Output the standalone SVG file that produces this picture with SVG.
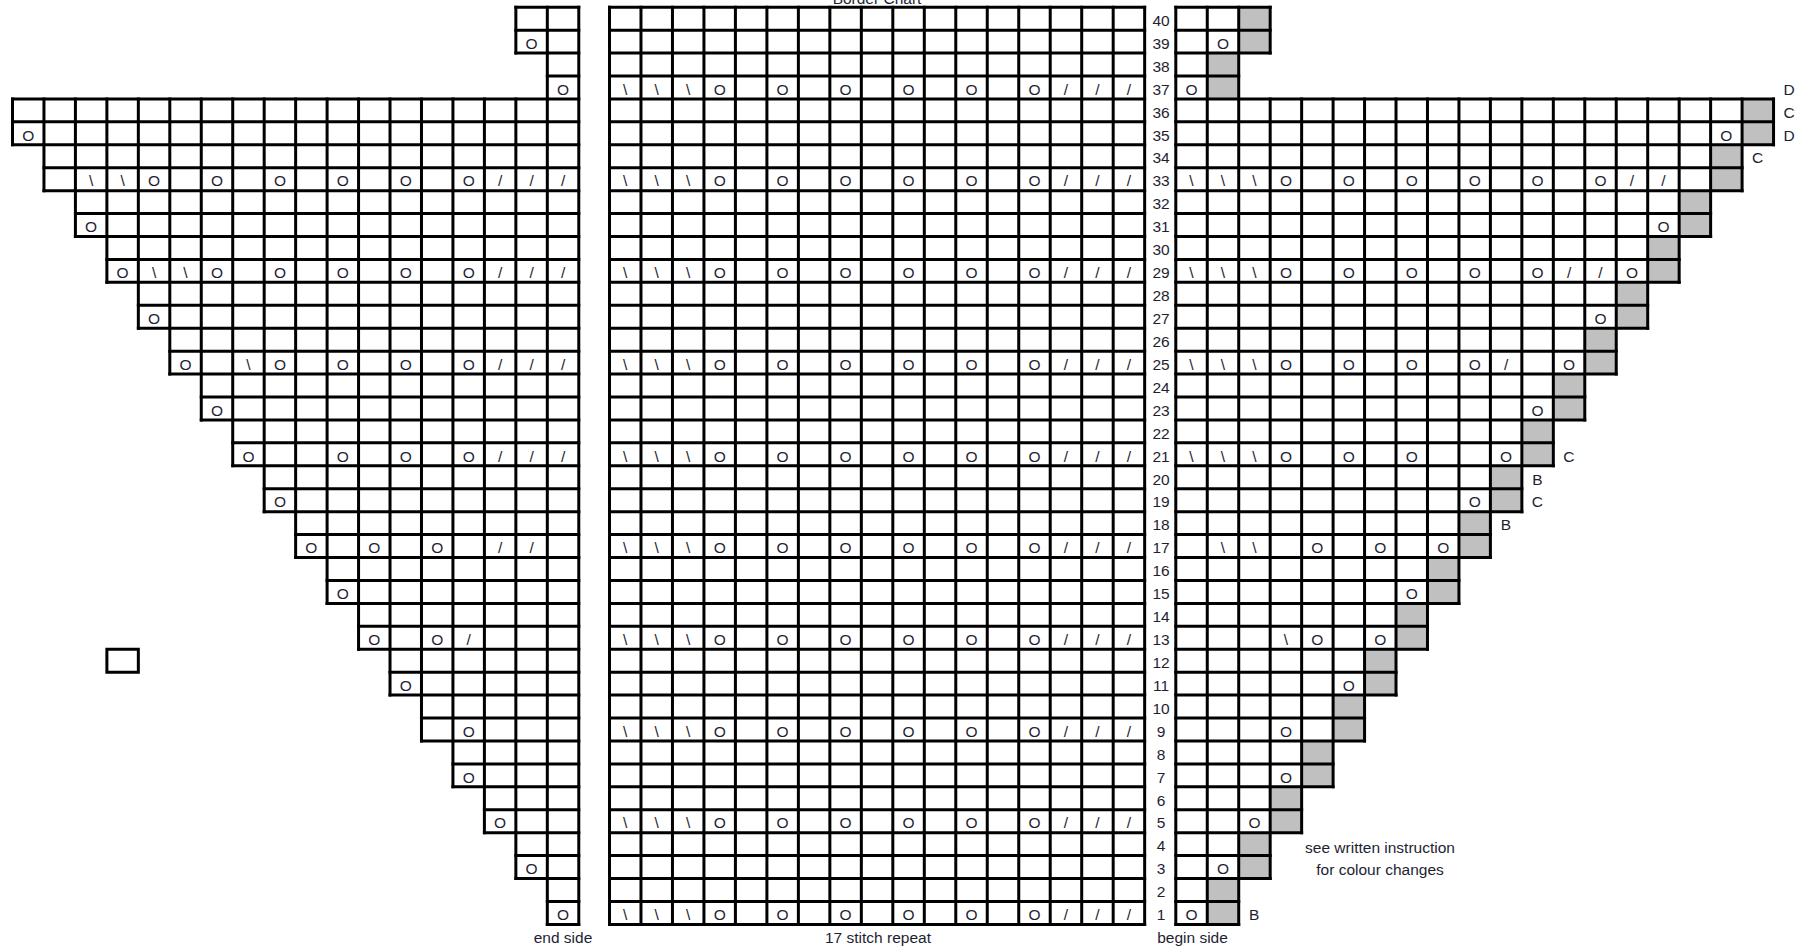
<svg xmlns="http://www.w3.org/2000/svg" width="1808" height="946" viewBox="0 0 1808 946">
<style>
.g{fill:none;stroke:#000;stroke-width:3;stroke-linecap:square;vector-effect:non-scaling-stroke}
.gr{fill:#c0c0c0;stroke:none}
text{font-family:"Liberation Sans",Arial,sans-serif;font-size:15.5px;fill:#1e1e32;text-anchor:middle}
</style>
<rect x="0" y="0" width="1808" height="946" fill="#fff"/>
<text id="title" x="877" y="4">Border Chart</text>
<g id="left-section">
<g transform="translate(12.5,7.2) scale(31.46,22.93)">
<path class="g" d="M16 0H18M16 1H18M16 2H18M17 3H18M0 4H18M0 5H18M0 6H18M1 7H18M1 8H18M2 9H18M2 10H18M3 11H18M3 12H18M4 13H18M4 14H18M5 15H18M5 16H18M6 17H18M6 18H18M7 19H18M7 20H18M8 21H18M8 22H18M9 23H18M9 24H18M10 25H18M10 26H18M11 27H18M11 28H18M12 29H18M12 30H18M13 31H18M13 32H18M14 33H18M14 34H18M15 35H18M15 36H18M16 37H18M16 38H18M17 39H18M17 40H18"/>
<path class="g" d="M0 4V6M1 4V8M2 4V10M3 4V12M4 4V14M5 4V16M6 4V18M7 4V20M8 4V22M9 4V24M10 4V26M11 4V28M12 4V30M13 4V32M14 4V34M15 4V36M16 0V2M16 4V38M17 0V40M18 0V40"/>
<rect class="g" x="3" y="28" width="1" height="1"/>
</g>
<text x="531.59" y="48.83">O</text>
<text x="563.05" y="94.69">O</text>
<text x="28.23" y="140.55">O</text>
<text x="91.15" y="186.41">\</text><text x="122.61" y="186.41">\</text><text x="154.07" y="186.41">O</text><text x="216.99" y="186.41">O</text><text x="279.91" y="186.41">O</text><text x="342.83" y="186.41">O</text><text x="405.75" y="186.41">O</text><text x="468.67" y="186.41">O</text><text x="500.13" y="186.41">/</text><text x="531.59" y="186.41">/</text><text x="563.05" y="186.41">/</text>
<text x="91.15" y="232.27">O</text>
<text x="122.61" y="278.13">O</text><text x="154.07" y="278.13">\</text><text x="185.53" y="278.13">\</text><text x="216.99" y="278.13">O</text><text x="279.91" y="278.13">O</text><text x="342.83" y="278.13">O</text><text x="405.75" y="278.13">O</text><text x="468.67" y="278.13">O</text><text x="500.13" y="278.13">/</text><text x="531.59" y="278.13">/</text><text x="563.05" y="278.13">/</text>
<text x="154.07" y="323.99">O</text>
<text x="185.53" y="369.85">O</text><text x="248.45" y="369.85">\</text><text x="279.91" y="369.85">O</text><text x="342.83" y="369.85">O</text><text x="405.75" y="369.85">O</text><text x="468.67" y="369.85">O</text><text x="500.13" y="369.85">/</text><text x="531.59" y="369.85">/</text><text x="563.05" y="369.85">/</text>
<text x="216.99" y="415.71">O</text>
<text x="248.45" y="461.57">O</text><text x="342.83" y="461.57">O</text><text x="405.75" y="461.57">O</text><text x="468.67" y="461.57">O</text><text x="500.13" y="461.57">/</text><text x="531.59" y="461.57">/</text><text x="563.05" y="461.57">/</text>
<text x="279.91" y="507.43">O</text>
<text x="311.37" y="553.29">O</text><text x="374.29" y="553.29">O</text><text x="437.21" y="553.29">O</text><text x="500.13" y="553.29">/</text><text x="531.59" y="553.29">/</text>
<text x="342.83" y="599.15">O</text>
<text x="374.29" y="645.01">O</text><text x="437.21" y="645.01">O</text><text x="468.67" y="645.01">/</text>
<text x="405.75" y="690.87">O</text>
<text x="468.67" y="736.73">O</text>
<text x="468.67" y="782.59">O</text>
<text x="500.13" y="828.45">O</text>
<text x="531.59" y="874.31">O</text>
<text x="563.05" y="920.17">O</text>
<text x="563" y="942.5">end side</text>
</g>
<g id="middle-section">
<g transform="translate(609.5,7.2) scale(31.48,22.93)">
<path class="g" d="M0 0H17M0 1H17M0 2H17M0 3H17M0 4H17M0 5H17M0 6H17M0 7H17M0 8H17M0 9H17M0 10H17M0 11H17M0 12H17M0 13H17M0 14H17M0 15H17M0 16H17M0 17H17M0 18H17M0 19H17M0 20H17M0 21H17M0 22H17M0 23H17M0 24H17M0 25H17M0 26H17M0 27H17M0 28H17M0 29H17M0 30H17M0 31H17M0 32H17M0 33H17M0 34H17M0 35H17M0 36H17M0 37H17M0 38H17M0 39H17M0 40H17"/>
<path class="g" d="M0 0V40M1 0V40M2 0V40M3 0V40M4 0V40M5 0V40M6 0V40M7 0V40M8 0V40M9 0V40M10 0V40M11 0V40M12 0V40M13 0V40M14 0V40M15 0V40M16 0V40M17 0V40"/>
</g>
<text x="625.24" y="94.69">\</text><text x="656.72" y="94.69">\</text><text x="688.2" y="94.69">\</text><text x="719.68" y="94.69">O</text><text x="782.64" y="94.69">O</text><text x="845.6" y="94.69">O</text><text x="908.56" y="94.69">O</text><text x="971.52" y="94.69">O</text><text x="1034.48" y="94.69">O</text><text x="1065.96" y="94.69">/</text><text x="1097.44" y="94.69">/</text><text x="1128.92" y="94.69">/</text>
<text x="625.24" y="186.41">\</text><text x="656.72" y="186.41">\</text><text x="688.2" y="186.41">\</text><text x="719.68" y="186.41">O</text><text x="782.64" y="186.41">O</text><text x="845.6" y="186.41">O</text><text x="908.56" y="186.41">O</text><text x="971.52" y="186.41">O</text><text x="1034.48" y="186.41">O</text><text x="1065.96" y="186.41">/</text><text x="1097.44" y="186.41">/</text><text x="1128.92" y="186.41">/</text>
<text x="625.24" y="278.13">\</text><text x="656.72" y="278.13">\</text><text x="688.2" y="278.13">\</text><text x="719.68" y="278.13">O</text><text x="782.64" y="278.13">O</text><text x="845.6" y="278.13">O</text><text x="908.56" y="278.13">O</text><text x="971.52" y="278.13">O</text><text x="1034.48" y="278.13">O</text><text x="1065.96" y="278.13">/</text><text x="1097.44" y="278.13">/</text><text x="1128.92" y="278.13">/</text>
<text x="625.24" y="369.85">\</text><text x="656.72" y="369.85">\</text><text x="688.2" y="369.85">\</text><text x="719.68" y="369.85">O</text><text x="782.64" y="369.85">O</text><text x="845.6" y="369.85">O</text><text x="908.56" y="369.85">O</text><text x="971.52" y="369.85">O</text><text x="1034.48" y="369.85">O</text><text x="1065.96" y="369.85">/</text><text x="1097.44" y="369.85">/</text><text x="1128.92" y="369.85">/</text>
<text x="625.24" y="461.57">\</text><text x="656.72" y="461.57">\</text><text x="688.2" y="461.57">\</text><text x="719.68" y="461.57">O</text><text x="782.64" y="461.57">O</text><text x="845.6" y="461.57">O</text><text x="908.56" y="461.57">O</text><text x="971.52" y="461.57">O</text><text x="1034.48" y="461.57">O</text><text x="1065.96" y="461.57">/</text><text x="1097.44" y="461.57">/</text><text x="1128.92" y="461.57">/</text>
<text x="625.24" y="553.29">\</text><text x="656.72" y="553.29">\</text><text x="688.2" y="553.29">\</text><text x="719.68" y="553.29">O</text><text x="782.64" y="553.29">O</text><text x="845.6" y="553.29">O</text><text x="908.56" y="553.29">O</text><text x="971.52" y="553.29">O</text><text x="1034.48" y="553.29">O</text><text x="1065.96" y="553.29">/</text><text x="1097.44" y="553.29">/</text><text x="1128.92" y="553.29">/</text>
<text x="625.24" y="645.01">\</text><text x="656.72" y="645.01">\</text><text x="688.2" y="645.01">\</text><text x="719.68" y="645.01">O</text><text x="782.64" y="645.01">O</text><text x="845.6" y="645.01">O</text><text x="908.56" y="645.01">O</text><text x="971.52" y="645.01">O</text><text x="1034.48" y="645.01">O</text><text x="1065.96" y="645.01">/</text><text x="1097.44" y="645.01">/</text><text x="1128.92" y="645.01">/</text>
<text x="625.24" y="736.73">\</text><text x="656.72" y="736.73">\</text><text x="688.2" y="736.73">\</text><text x="719.68" y="736.73">O</text><text x="782.64" y="736.73">O</text><text x="845.6" y="736.73">O</text><text x="908.56" y="736.73">O</text><text x="971.52" y="736.73">O</text><text x="1034.48" y="736.73">O</text><text x="1065.96" y="736.73">/</text><text x="1097.44" y="736.73">/</text><text x="1128.92" y="736.73">/</text>
<text x="625.24" y="828.45">\</text><text x="656.72" y="828.45">\</text><text x="688.2" y="828.45">\</text><text x="719.68" y="828.45">O</text><text x="782.64" y="828.45">O</text><text x="845.6" y="828.45">O</text><text x="908.56" y="828.45">O</text><text x="971.52" y="828.45">O</text><text x="1034.48" y="828.45">O</text><text x="1065.96" y="828.45">/</text><text x="1097.44" y="828.45">/</text><text x="1128.92" y="828.45">/</text>
<text x="625.24" y="920.17">\</text><text x="656.72" y="920.17">\</text><text x="688.2" y="920.17">\</text><text x="719.68" y="920.17">O</text><text x="782.64" y="920.17">O</text><text x="845.6" y="920.17">O</text><text x="908.56" y="920.17">O</text><text x="971.52" y="920.17">O</text><text x="1034.48" y="920.17">O</text><text x="1065.96" y="920.17">/</text><text x="1097.44" y="920.17">/</text><text x="1128.92" y="920.17">/</text>
<text x="878" y="942.5">17 stitch repeat</text>
</g>
<g id="row-numbers">
<text x="1161" y="25.9">40</text><text x="1161" y="48.83">39</text><text x="1161" y="71.76">38</text><text x="1161" y="94.69">37</text><text x="1161" y="117.62">36</text><text x="1161" y="140.55">35</text><text x="1161" y="163.48">34</text><text x="1161" y="186.41">33</text><text x="1161" y="209.34">32</text><text x="1161" y="232.27">31</text><text x="1161" y="255.2">30</text><text x="1161" y="278.13">29</text><text x="1161" y="301.06">28</text><text x="1161" y="323.99">27</text><text x="1161" y="346.92">26</text><text x="1161" y="369.85">25</text><text x="1161" y="392.78">24</text><text x="1161" y="415.71">23</text><text x="1161" y="438.64">22</text><text x="1161" y="461.57">21</text><text x="1161" y="484.5">20</text><text x="1161" y="507.43">19</text><text x="1161" y="530.36">18</text><text x="1161" y="553.29">17</text><text x="1161" y="576.22">16</text><text x="1161" y="599.15">15</text><text x="1161" y="622.08">14</text><text x="1161" y="645.01">13</text><text x="1161" y="667.94">12</text><text x="1161" y="690.87">11</text><text x="1161" y="713.8">10</text><text x="1161" y="736.73">9</text><text x="1161" y="759.66">8</text><text x="1161" y="782.59">7</text><text x="1161" y="805.52">6</text><text x="1161" y="828.45">5</text><text x="1161" y="851.38">4</text><text x="1161" y="874.31">3</text><text x="1161" y="897.24">2</text><text x="1161" y="920.17">1</text>
</g>
<g id="right-section">
<g transform="translate(1175.8,7.2) scale(31.46,22.93)">
<path class="gr" d="M2 0h1v2h-1zM1 2h1v2h-1zM18 4h1v2h-1zM17 6h1v2h-1zM16 8h1v2h-1zM15 10h1v2h-1zM14 12h1v2h-1zM13 14h1v2h-1zM12 16h1v2h-1zM11 18h1v2h-1zM10 20h1v2h-1zM9 22h1v2h-1zM8 24h1v2h-1zM7 26h1v2h-1zM6 28h1v2h-1zM5 30h1v2h-1zM4 32h1v2h-1zM3 34h1v2h-1zM2 36h1v2h-1zM1 38h1v2h-1z"/>
<path class="g" d="M0 0H3M0 1H3M0 2H3M0 3H2M0 4H19M0 5H19M0 6H19M0 7H18M0 8H18M0 9H17M0 10H17M0 11H16M0 12H16M0 13H15M0 14H15M0 15H14M0 16H14M0 17H13M0 18H13M0 19H12M0 20H12M0 21H11M0 22H11M0 23H10M0 24H10M0 25H9M0 26H9M0 27H8M0 28H8M0 29H7M0 30H7M0 31H6M0 32H6M0 33H5M0 34H5M0 35H4M0 36H4M0 37H3M0 38H3M0 39H2M0 40H2"/>
<path class="g" d="M0 0V40M1 0V40M2 0V40M3 0V2M3 4V38M4 4V36M5 4V34M6 4V32M7 4V30M8 4V28M9 4V26M10 4V24M11 4V22M12 4V20M13 4V18M14 4V16M15 4V14M16 4V12M17 4V10M18 4V8M19 4V6"/>
</g>
<text x="1222.99" y="48.83">O</text>
<text x="1191.53" y="94.69">O</text>
<text x="1726.35" y="140.55">O</text>
<text x="1191.53" y="186.41">\</text><text x="1222.99" y="186.41">\</text><text x="1254.45" y="186.41">\</text><text x="1285.91" y="186.41">O</text><text x="1348.83" y="186.41">O</text><text x="1411.75" y="186.41">O</text><text x="1474.67" y="186.41">O</text><text x="1537.59" y="186.41">O</text><text x="1600.51" y="186.41">O</text><text x="1631.97" y="186.41">/</text><text x="1663.43" y="186.41">/</text>
<text x="1663.43" y="232.27">O</text>
<text x="1191.53" y="278.13">\</text><text x="1222.99" y="278.13">\</text><text x="1254.45" y="278.13">\</text><text x="1285.91" y="278.13">O</text><text x="1348.83" y="278.13">O</text><text x="1411.75" y="278.13">O</text><text x="1474.67" y="278.13">O</text><text x="1537.59" y="278.13">O</text><text x="1569.05" y="278.13">/</text><text x="1600.51" y="278.13">/</text><text x="1631.97" y="278.13">O</text>
<text x="1600.51" y="323.99">O</text>
<text x="1191.53" y="369.85">\</text><text x="1222.99" y="369.85">\</text><text x="1254.45" y="369.85">\</text><text x="1285.91" y="369.85">O</text><text x="1348.83" y="369.85">O</text><text x="1411.75" y="369.85">O</text><text x="1474.67" y="369.85">O</text><text x="1506.13" y="369.85">/</text><text x="1569.05" y="369.85">O</text>
<text x="1537.59" y="415.71">O</text>
<text x="1191.53" y="461.57">\</text><text x="1222.99" y="461.57">\</text><text x="1254.45" y="461.57">\</text><text x="1285.91" y="461.57">O</text><text x="1348.83" y="461.57">O</text><text x="1411.75" y="461.57">O</text><text x="1506.13" y="461.57">O</text>
<text x="1474.67" y="507.43">O</text>
<text x="1222.99" y="553.29">\</text><text x="1254.45" y="553.29">\</text><text x="1317.37" y="553.29">O</text><text x="1380.29" y="553.29">O</text><text x="1443.21" y="553.29">O</text>
<text x="1411.75" y="599.15">O</text>
<text x="1285.91" y="645.01">\</text><text x="1317.37" y="645.01">O</text><text x="1380.29" y="645.01">O</text>
<text x="1348.83" y="690.87">O</text>
<text x="1285.91" y="736.73">O</text>
<text x="1285.91" y="782.59">O</text>
<text x="1254.45" y="828.45">O</text>
<text x="1222.99" y="874.31">O</text>
<text x="1191.53" y="920.17">O</text>
<text x="1192.5" y="942.5">begin side</text>
</g>
<g id="colour-labels">
<text x="1789" y="94.69">D</text>
<text x="1789" y="117.62">C</text>
<text x="1789" y="140.55">D</text>
<text x="1757.6" y="163.48">C</text>
<text x="1568.8" y="461.57">C</text>
<text x="1537.4" y="484.5">B</text>
<text x="1537.4" y="507.43">C</text>
<text x="1505.9" y="530.36">B</text>
<text x="1254.2" y="920.17">B</text>
<text x="1380" y="852.5">see written instruction</text>
<text x="1380" y="874.5">for colour changes</text>
</g>
</svg>
